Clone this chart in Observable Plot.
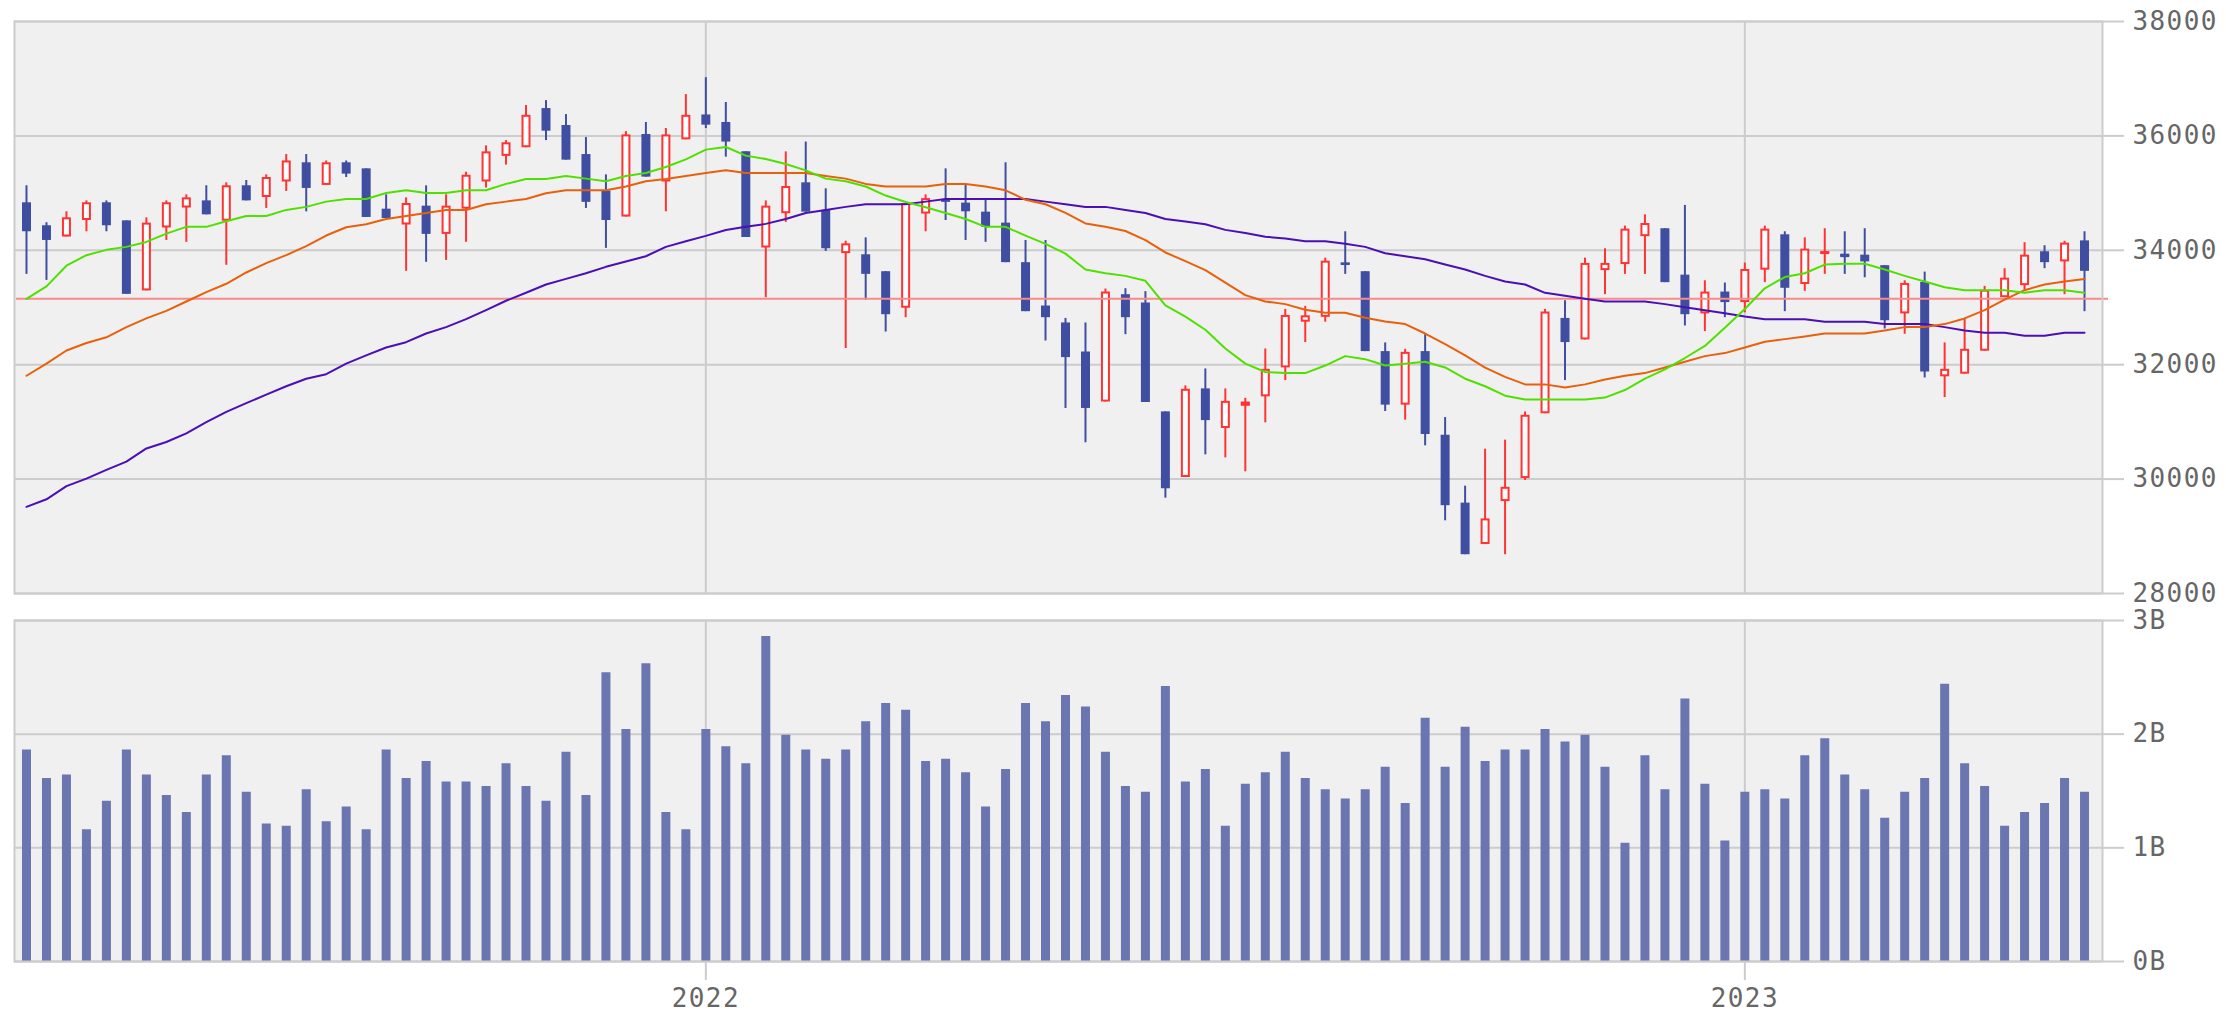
<!DOCTYPE html>
<html>
<head>
<meta charset="utf-8">
<script src="https://cdn.jsdelivr.net/npm/d3@7"></script>
<script src="https://cdn.jsdelivr.net/npm/@observablehq/plot@0.6"></script>
<style>
html, body { margin: 0; padding: 0; background: #ffffff; }
#chart { position: relative; width: 2226px; height: 1013px; overflow: hidden; background: #ffffff; }
#price, #volume { position: absolute; left: 0; }
#price { top: 0; }
#volume { top: 605px; }
svg { overflow: visible; }
svg text { letter-spacing: 1.4px; }
</style>
</head>
<body>
<div id="chart"><div id="price"></div><div id="volume"></div></div>
<script>
// ---- categories: week start dates ----
const weeks = [
  "2021-05-10","2021-05-17","2021-05-24","2021-05-31","2021-06-07","2021-06-14","2021-06-21","2021-06-28",
  "2021-07-05","2021-07-12","2021-07-19","2021-07-26","2021-08-02","2021-08-09","2021-08-16","2021-08-23",
  "2021-08-30","2021-09-06","2021-09-13","2021-09-20","2021-09-27","2021-10-04","2021-10-11","2021-10-18",
  "2021-10-25","2021-11-01","2021-11-08","2021-11-15","2021-11-22","2021-11-29","2021-12-06","2021-12-13",
  "2021-12-20","2021-12-27",
  "2022-01-03","2022-01-10","2022-01-17","2022-01-24","2022-01-31","2022-02-07","2022-02-14","2022-02-21",
  "2022-02-28","2022-03-07","2022-03-14","2022-03-21","2022-03-28","2022-04-04","2022-04-11","2022-04-18",
  "2022-04-25","2022-05-02","2022-05-09","2022-05-16","2022-05-23","2022-05-30","2022-06-06","2022-06-13",
  "2022-06-20","2022-06-27","2022-07-04","2022-07-11","2022-07-18","2022-07-25","2022-08-01","2022-08-08",
  "2022-08-15","2022-08-22","2022-08-29","2022-09-05","2022-09-12","2022-09-19","2022-09-26","2022-10-03",
  "2022-10-10","2022-10-17","2022-10-24","2022-10-31","2022-11-07","2022-11-14","2022-11-21","2022-11-28",
  "2022-12-05","2022-12-12","2022-12-19","2022-12-26",
  "2023-01-02","2023-01-09","2023-01-16","2023-01-23","2023-01-30","2023-02-06","2023-02-13","2023-02-20",
  "2023-02-27","2023-03-06","2023-03-13","2023-03-20","2023-03-27","2023-04-03","2023-04-10","2023-04-17",
  "2023-04-24","2023-05-01"
];

// ---- series values ----
const open = [
  34831,34429,34232,34521,34831,34515,33290,34390,34739,34864,
  34508,35128,34923,35194,35530,35134,35530,35424,34719,34442,
  34772,34278,34719,35194,35642,35793,36478,36182,35674,35036,
  34581,36024,35194,35931,36366,36235,35721,34040,34640,35180,
  34700,33942,33922,33626,32987,34634,34884,34825,34667,34475,
  33784,33026,32730,32222,31346,33224,33079,31175,30029,31577,
  30885,31290,31438,31945,32743,32828,33764,33626,32229,31293,
  32229,30767,29580,28856,29607,30009,31142,32809,32433,33645,
  33751,34238,34377,33566,32888,33270,33086,33652,34271,33402,
  33942,33915,33915,33731,32888,33435,31788,31834,32236,33171,
  33382,33975,33797,34165
];
const high = [
  35128,34482,34673,34864,34864,34515,34568,34864,34970,35128,
  35180,35220,35319,35674,35674,35562,35562,35424,34970,34917,
  35128,34970,35365,35826,35918,36531,36617,36373,35971,35319,
  36076,36235,36129,36722,37018,36584,35721,34864,35721,35892,
  35075,34159,34218,33626,34818,34970,35424,35134,34877,35530,
  34172,34172,32809,32730,33323,33329,33277,31175,31630,31926,
  31577,31412,32275,32967,33020,33863,34324,33626,32381,32269,
  32525,31076,29877,30523,30681,31175,32967,33118,33863,34027,
  34423,34620,34377,34785,33467,33428,33777,34423,34324,34218,
  34377,34324,34377,33731,33467,33619,32381,32809,33369,33678,
  34133,34080,34159,34324
];
const low = [
  33579,33474,34232,34324,34324,33230,33290,34172,34139,34620,
  33738,34864,34732,35029,34673,35134,35273,34574,34555,33632,
  33790,33823,34139,35088,35490,35793,35918,35576,34732,34034,
  34581,35279,34673,35931,36129,35628,34225,33171,34489,34667,
  33981,32282,33125,32571,32822,34324,34521,34172,34139,33784,
  32927,32414,31235,30635,31346,32525,31339,29666,30029,30424,
  30371,30127,30984,31722,32387,32743,33579,32229,31182,31030,
  30582,29271,28678,28856,28678,29976,31142,31722,32433,33224,
  33579,33579,33435,32677,32578,32822,32907,33435,32927,33283,
  33579,33579,33520,32624,32532,31768,31425,31834,32236,33171,
  33303,33678,33224,32927
];
const close = [
  34324,34172,34568,34831,34429,33230,34475,34831,34917,34620,
  35128,34864,35273,35562,35081,35530,35332,34574,34555,34818,
  34278,34772,35312,35721,35879,36360,36083,35576,34838,34521,
  36017,35279,36017,36360,36188,35892,34225,34772,35115,34667,
  34027,34113,33579,32874,34818,34904,34838,34673,34403,33784,
  32927,32822,32124,31235,33270,32822,31339,29831,31570,31023,
  31359,31330,31919,32861,32855,33810,33751,32229,31293,32216,
  30780,29535,28678,29304,29857,31116,32921,32387,33771,33771,
  34370,34469,33435,32874,33270,33086,33665,34370,33336,34021,
  33961,33889,33797,32769,33421,31873,31919,32269,33303,33513,
  33915,33784,34126,33632
];
// weekly volume, billions of shares
const volume = [
  1.86,1.61,1.64,1.16,1.41,1.86,1.64,1.46,1.31,1.64,
  1.81,1.49,1.21,1.19,1.51,1.23,1.36,1.16,1.86,1.61,
  1.76,1.58,1.58,1.54,1.74,1.54,1.41,1.84,1.46,2.54,
  2.04,2.62,1.31,1.16,2.04,1.89,1.74,2.86,1.99,1.86,
  1.78,1.86,2.11,2.27,2.21,1.76,1.78,1.66,1.36,1.69,
  2.27,2.11,2.34,2.24,1.84,1.54,1.49,2.42,1.58,1.69,
  1.19,1.56,1.66,1.84,1.61,1.51,1.43,1.51,1.71,1.39,
  2.14,1.71,2.06,1.76,1.86,1.86,2.04,1.93,1.99,1.71,
  1.04,1.81,1.51,2.31,1.56,1.06,1.49,1.51,1.43,1.81,
  1.96,1.64,1.51,1.26,1.49,1.61,2.44,1.74,1.54,1.19,
  1.31,1.39,1.61,1.49
];
// moving averages (green = short, orange = medium, purple = long)
const maShort = [
  33151,33369,33731,33915,34008,34060,34146,34291,34410,34410,
  34508,34600,34600,34706,34759,34851,34897,34897,35002,35049,
  35002,35002,35049,35049,35161,35247,35247,35299,35253,35207,
  35299,35352,35457,35589,35760,35806,35655,35596,35510,35398,
  35253,35207,35115,34957,34845,34752,34653,34548,34410,34410,
  34258,34113,33942,33665,33599,33553,33467,33039,32841,32611,
  32282,32018,31873,31853,31853,31985,32150,32097,31985,32018,
  32051,31952,31755,31623,31458,31392,31392,31392,31392,31425,
  31557,31755,31919,32117,32328,32644,32974,33336,33533,33599,
  33751,33764,33764,33665,33553,33454,33355,33303,33303,33303,
  33257,33303,33303,33257
];
const maMid = [
  31807,32018,32248,32380,32479,32657,32809,32940,33105,33270,
  33415,33612,33777,33915,34073,34258,34403,34455,34548,34600,
  34653,34706,34706,34805,34851,34897,34996,35049,35049,35049,
  35115,35207,35247,35299,35352,35398,35352,35352,35352,35352,
  35299,35253,35161,35115,35115,35115,35161,35161,35115,35049,
  34884,34805,34653,34469,34410,34337,34179,33962,33810,33652,
  33435,33217,33105,33059,32960,32907,32907,32822,32756,32710,
  32545,32361,32163,31950,31787,31656,31656,31603,31656,31741,
  31807,31853,31952,32051,32150,32203,32302,32400,32447,32493,
  32545,32545,32545,32598,32657,32657,32710,32809,32953,33138,
  33303,33402,33454,33500
];
const maLong = [
  29515,29647,29877,30009,30160,30305,30536,30648,30800,30997,
  31175,31327,31478,31623,31755,31834,32018,32163,32301,32394,
  32545,32657,32796,32953,33118,33257,33402,33500,33599,33711,
  33803,33896,34060,34159,34252,34356,34410,34462,34548,34653,
  34706,34759,34805,34805,34805,34851,34897,34897,34897,34897,
  34897,34851,34805,34759,34759,34706,34653,34548,34502,34456,
  34357,34304,34238,34205,34159,34159,34113,34060,33948,33896,
  33843,33751,33665,33553,33454,33402,33257,33204,33151,33105,
  33105,33105,33059,33006,32953,32901,32841,32796,32796,32796,
  32750,32750,32750,32710,32710,32710,32657,32598,32559,32559,
  32506,32506,32559,32559
];
const referenceLevel = [33151];

// ---- tick labels ----
const priceTicks = [28000, 30000, 32000, 34000, 36000, 38000];
const volumeTicks = [0, 1, 2, 3];
const volumeTickLabels = ["0B", "1B", "2B", "3B"];
const yearTickDates = ["2022-01-03", "2023-01-02"];
const yearTickLabels = ["2022", "2023"];

// ---- build table ----
const parse = s => new Date(s + "T00:00:00Z");
const rows = weeks.map((w, i) => ({
  date: parse(w), open: open[i], high: high[i], low: low[i], close: close[i],
  volume: volume[i], maShort: maShort[i], maMid: maMid[i], maLong: maLong[i]
}));
const up = rows.filter(d => d.close >= d.open);
const down = rows.filter(d => d.close < d.open);
const upHollow = up.filter(d => d.close - d.open > 90);
const doji = rows.filter(d => Math.abs(d.close - d.open) < 45);
const yearTicks = yearTickDates.map(parse);

const WEEK = 7 * 864e5;
const xDomain = [new Date(+rows[0].date - 0.6 * WEEK), new Date(+rows[rows.length - 1].date + 0.9 * WEEK)];

const RED = "#ff3333", BLUE = "#3f4ea0", GREEN = "#50e000", ORANGE = "#e8600c", PURPLE = "#4a0fb5";
const GRID = "#cccccc", PANEL = "#f0f0f0", TEXT = "#666666", VOL = "#6b75b0", REF = "#f88a8a";
const FONT = "'DejaVu Sans Mono', monospace";
const W = 2226, ML = 14, MR = 124;

const price = Plot.plot({
  width: W, height: 605,
  marginTop: 21, marginBottom: 12, marginLeft: ML, marginRight: MR,
  style: { fontFamily: FONT, fontSize: "26px", background: "transparent", overflow: "visible" },
  x: { type: "utc", domain: xDomain, axis: null, label: null },
  y: { domain: [28000, 38000], label: null },
  marks: [
    Plot.frame({ fill: PANEL }),
    Plot.gridY(priceTicks, { stroke: GRID, strokeOpacity: 1, strokeWidth: 2 }),
    Plot.ruleX(yearTicks, { stroke: GRID, strokeWidth: 2 }),
    // wicks
    Plot.ruleX(down, { x: "date", y1: "low", y2: "high", stroke: BLUE, strokeWidth: 2 }),
    Plot.ruleX(up, { x: "date", y1: "low", y2: "high", stroke: RED, strokeWidth: 2 }),
    // bodies
    Plot.ruleX(down, { x: "date", y1: "open", y2: "close", stroke: BLUE, strokeWidth: 9 }),
    Plot.ruleX(up, { x: "date", y1: "close", y2: "open", stroke: RED, strokeWidth: 9 }),
    Plot.ruleX(upHollow, { x: "date", y1: "close", y2: "open", stroke: "#ffffff", strokeWidth: 5, insetTop: 2, insetBottom: 2 }),
    Plot.ruleX(doji, { x: "date", y1: d => Math.max(d.open, d.close), y2: d => Math.min(d.open, d.close),
      stroke: d => d.close >= d.open ? RED : BLUE, strokeWidth: 9, insetTop: -1, insetBottom: -1 }),
    // reference line
    Plot.ruleY(referenceLevel, { stroke: REF, strokeWidth: 2, insetLeft: 2, insetRight: -6 }),
    // moving averages
    Plot.line(rows, { x: "date", y: "maLong", stroke: PURPLE, strokeWidth: 2 }),
    Plot.line(rows, { x: "date", y: "maMid", stroke: ORANGE, strokeWidth: 2 }),
    Plot.line(rows, { x: "date", y: "maShort", stroke: GREEN, strokeWidth: 2 }),
    Plot.frame({ stroke: GRID, strokeWidth: 2 }),
    Plot.axisY(priceTicks, { anchor: "right", label: null, tickSize: 21, tickPadding: 9,
      stroke: GRID, strokeWidth: 2, fill: TEXT, fontSize: 26, fontFamily: FONT,
      tickFormat: d => String(d) })
  ]
});
document.getElementById("price").appendChild(price);

const vol = Plot.plot({
  width: W, height: 408,
  marginTop: 15, marginBottom: 52, marginLeft: ML, marginRight: MR,
  style: { fontFamily: FONT, fontSize: "26px", background: "transparent", overflow: "visible" },
  x: { type: "utc", domain: xDomain, label: null },
  y: { domain: [0, 3], label: null },
  marks: [
    Plot.frame({ fill: PANEL }),
    Plot.gridY(volumeTicks, { stroke: GRID, strokeOpacity: 1, strokeWidth: 2 }),
    Plot.ruleX(yearTicks, { stroke: GRID, strokeWidth: 2 }),
    Plot.ruleX(rows, { x: "date", y1: 0, y2: "volume", stroke: VOL, strokeWidth: 9 }),
    Plot.frame({ stroke: GRID, strokeWidth: 2 }),
    Plot.axisY(volumeTicks, { anchor: "right", label: null, tickSize: 21, tickPadding: 9,
      stroke: GRID, strokeWidth: 2, fill: TEXT, fontSize: 26, fontFamily: FONT,
      tickFormat: d => volumeTickLabels[volumeTicks.indexOf(d)] }),
    Plot.axisX(yearTicks, { anchor: "bottom", label: null, tickSize: 19, tickPadding: 8,
      stroke: GRID, strokeWidth: 2, fill: TEXT, fontSize: 26, fontFamily: FONT,
      tickFormat: d => yearTickLabels[yearTicks.findIndex(t => +t === +d)] })
  ]
});
document.getElementById("volume").appendChild(vol);
</script>
</body>
</html>
